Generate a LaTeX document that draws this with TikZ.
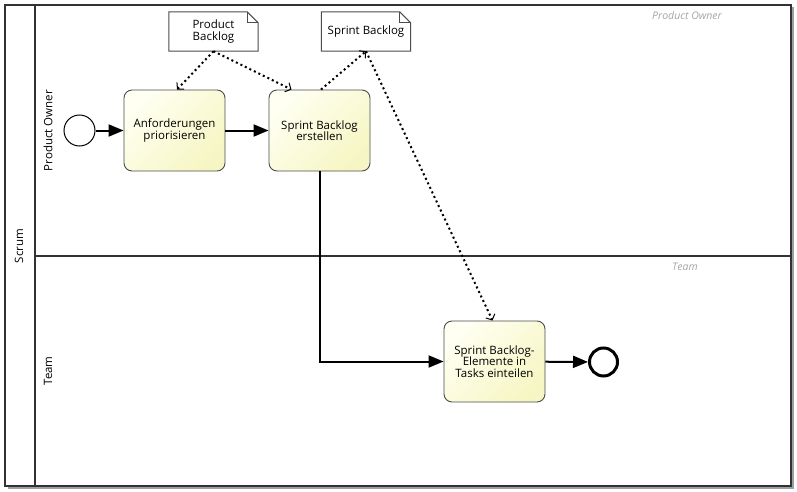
\documentclass[tikz,border=0pt]{standalone}
\usepackage{fontspec}
\setmainfont{Open Sans}
\usetikzlibrary{arrows.meta}
\definecolor{taskLight}{RGB}{255,255,242}
\definecolor{taskDark}{RGB}{246,246,196}
\definecolor{frame}{RGB}{50,50,50}
\definecolor{laneName}{RGB}{165,165,165}
\begin{document}
\begin{tikzpicture}[x=1pt,y=-1pt,
  poolline/.style={draw=frame, line width=1.5pt},
  headlabel/.style={rotate=90, font=\fontsize{11.5}{13}\selectfont},
  lanetag/.style={text=laneName, font=\fontsize{10.5}{12}\itshape},
  task/.style={draw=black!70, line width=0.9pt, rounded corners=8pt,
    minimum width=101pt, minimum height=81pt, align=center, inner sep=2pt,
    font=\fontsize{11.5}{11.5}\selectfont,
    top color=taskLight, bottom color=taskDark, shading angle=45},
  startev/.style={circle, draw=black, line width=1pt, fill=white, minimum size=31pt, inner sep=0pt},
  endev/.style={circle, draw=black, line width=3pt, fill=white, minimum size=28pt, inner sep=0pt},
  dataobj/.style={minimum width=89pt, minimum height=39pt, align=center, inner sep=1pt,
    font=\fontsize{11.5}{11.5}\selectfont},
  seqflow/.style={draw=black, line width=2pt, -{Triangle[length=15pt,width=12pt]}},
  assoc/.style={draw=black, line width=2pt, dash pattern=on 2pt off 3pt,
    -{Straight Barb[length=4.5pt,width=10pt,line width=1pt]}}
]
\useasboundingbox (0,0) rectangle (797,492);

% pool with shadow
\fill[gray!75] (7.5,7.5) rectangle (793.5,488.5);
\fill[white] (5,5) rectangle (791,486);
\draw[poolline] (5,5) rectangle (791,486);
\draw[poolline] (35,5) -- (35,486);
\draw[poolline] (35,256) -- (791,256);

% pool and lane labels
\node[headlabel] (pool) at (19,246) {Scrum};
\node[headlabel] (lanePO) at (48,130.5) {Product Owner};
\node[headlabel] (laneTeam) at (48,371) {Team};
\node[lanetag] (tagPO) at (687,16) {Product Owner};
\node[lanetag] (tagTeam) at (685,267) {Team};

% flow objects
\node[startev] (start) at (79.5,130.5) {};
\node[task] (t1) at (174.5,130.5) {Anforderungen\\priorisieren};
\node[task] (t2) at (319.5,130.5) {Sprint Backlog\\erstellen};
\node[task] (t3) at (494.5,361.5) {Sprint Backlog-\\Elemente in\\Tasks einteilen};
\node[endev] (end) at (603.5,362) {};

% data objects: page outline with a folded top-right corner
\node[dataobj] (pb) at (213.5,31.5) {};
\node[dataobj] (sb) at (366,31.5) {};
\foreach \d in {pb,sb}{
  \draw[draw=black!70, line width=1pt, fill=white]
    (\d.north west) -- ([xshift=-11pt]\d.north east) -- ([yshift=-11pt]\d.north east)
    -- (\d.south east) -- (\d.south west) -- cycle;
  \draw[draw=black!70, line width=1pt]
    ([xshift=-11pt]\d.north east) -- ([xshift=-11pt,yshift=-11pt]\d.north east)
    -- ([yshift=-11pt]\d.north east);
}
\node[dataobj] (pbtext) at (pb) {Product\\Backlog};
\node[dataobj] (sbtext) at (sb) {Sprint Backlog};

% sequence flows
\draw[seqflow] (start) -- (t1);
\draw[seqflow] (t1) -- (t2);
\draw[seqflow] (t2.south) |- (t3.west);
\draw[seqflow] (t3) -- (end);

% data associations
\draw[assoc] (pb.south) -- ([xshift=2.5pt]t1.north);
\draw[assoc] (pb.south) -- ([xshift=-28pt]t2.north);
\draw[assoc] ([xshift=1.5pt]t2.north) -- (sb.south);
\draw[assoc] (sb.south) -- ([xshift=-2pt]t3.north);
\end{tikzpicture}
\end{document}
